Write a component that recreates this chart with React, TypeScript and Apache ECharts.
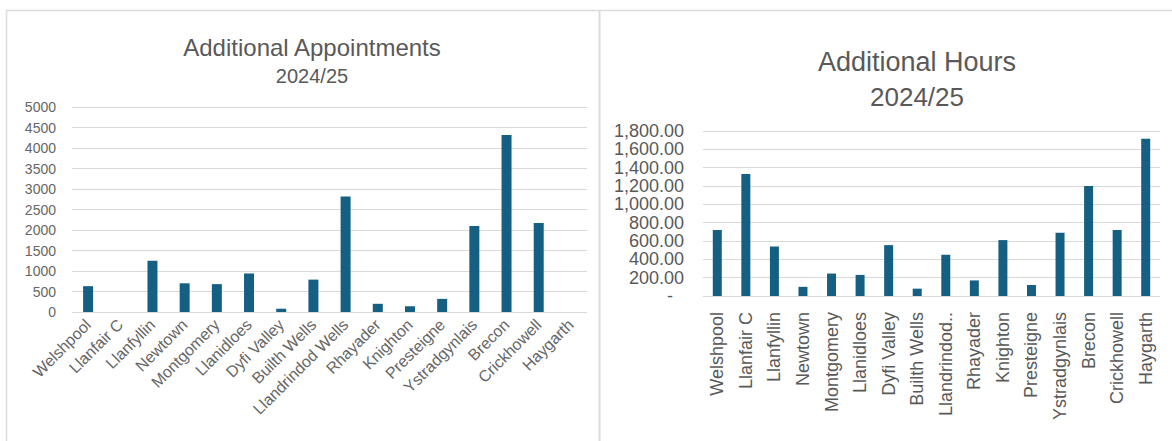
import React, { useEffect, useRef } from "react";
import * as echarts from "echarts";

const categories = [
  "Welshpool", "Llanfair C", "Llanfyllin", "Newtown", "Montgomery", "Llanidloes",
  "Dyfi Valley", "Builth Wells", "Llandrindod Wells", "Rhayader", "Knighton",
  "Presteigne", "Ystradgynlais", "Brecon", "Crickhowell", "Haygarth",
];

const appointments = [630, 0, 1250, 700, 680, 940, 80, 790, 2820, 200, 140, 320, 2100, 4320, 2170, 0];
const hours = [720, 1330, 540, 100, 245, 230, 555, 80, 450, 170, 610, 120, 690, 1200, 720, 1715];

const leftTitle = "Additional Appointments";
const rightTitle = "Additional Hours";
const period = "2024/25";

const BAR = "#156082";
const TXT = "#595959";
const GRID = "#d9d9d9";
const FONT = "'Liberation Sans', Arial, sans-serif";

export default function App() {
  const ref = useRef<HTMLDivElement>(null);
  useEffect(() => {
    if (!ref.current) return;
    const chart = echarts.init(ref.current, undefined, { renderer: "svg" });
    chart.setOption({
      animation: false,
      backgroundColor: "#ffffff",
      textStyle: { fontFamily: FONT },
      title: [
        { text: leftTitle, left: 307, top: 30, textAlign: "center", textStyle: { fontSize: 24, fontWeight: "normal", color: TXT, fontFamily: FONT } },
        { text: period, left: 307, top: 61, textAlign: "center", textStyle: { fontSize: 20, fontWeight: "normal", color: TXT, fontFamily: FONT } },
        { text: rightTitle, left: 912, top: 43, textAlign: "center", textStyle: { fontSize: 27, fontWeight: "normal", color: TXT, fontFamily: FONT } },
        { text: period, left: 912, top: 79, textAlign: "center", textStyle: { fontSize: 26, fontWeight: "normal", color: TXT, fontFamily: FONT } },
      ],
      graphic: [
        { type: "line", shape: { x1: 6, y1: 10.5, x2: 1172, y2: 10.5 }, style: { stroke: "#dcdcdc", lineWidth: 1.5 } },
        { type: "line", shape: { x1: 6.5, y1: 10, x2: 6.5, y2: 441 }, style: { stroke: "#dcdcdc", lineWidth: 1.5 } },
        { type: "line", shape: { x1: 599.5, y1: 10, x2: 599.5, y2: 441 }, style: { stroke: "#dcdcdc", lineWidth: 2 } },
      ],
      grid: [
        { left: 72, width: 515, top: 107, height: 205, containLabel: false },
        { left: 703, width: 457, top: 131, height: 165, containLabel: false },
      ],
      xAxis: [
        {
          type: "category", gridIndex: 0, data: categories,
          axisLine: { show: false }, axisTick: { show: false },
          axisLabel: { interval: 0, rotate: 45, fontSize: 16, color: "#666666", margin: 10, fontFamily: FONT },
        },
        {
          type: "category", gridIndex: 1, data: categories,
          axisLine: { show: false }, axisTick: { show: false },
          axisLabel: {
            interval: 0, rotate: 90, fontSize: 18, color: TXT, margin: 16, fontFamily: FONT,
            formatter: (v: string) => (v.length > 14 ? v.slice(0, 11) + ".." : v),
          },
        },
      ],
      yAxis: [
        {
          type: "value", gridIndex: 0, min: 0, max: 5000, interval: 500,
          axisLine: { show: false }, axisTick: { show: false },
          splitLine: { lineStyle: { color: GRID, width: 1 } },
          axisLabel: { fontSize: 14, color: "#666666", margin: 16, fontFamily: FONT, formatter: (v: number) => String(v) },
        },
        {
          type: "value", gridIndex: 1, min: 0, max: 1800, interval: 200,
          axisLine: { show: false }, axisTick: { show: false },
          splitLine: { lineStyle: { color: GRID, width: 1 } },
          axisLabel: {
            fontSize: 18, color: TXT, margin: 19, fontFamily: FONT,
            formatter: (v: number) =>
              v === 0 ? "{z|-}" : v.toLocaleString("en-US", { minimumFractionDigits: 2, maximumFractionDigits: 2 }),
            rich: { z: { fontSize: 18, color: TXT, padding: [0, 11, 0, 0], fontFamily: FONT } },
          },
        },
      ],
      series: [
        {
          type: "bar", xAxisIndex: 0, yAxisIndex: 0, data: appointments,
          barWidth: 10, itemStyle: { color: BAR },
        },
        {
          type: "bar", xAxisIndex: 1, yAxisIndex: 1, data: hours,
          barWidth: 9, itemStyle: { color: BAR },
        },
      ],
    });
    return () => chart.dispose();
  }, []);
  return (
    <div
      ref={ref}
      style={{ position: "fixed", left: 0, top: 0, width: 1172, height: 441, background: "#fff" }}
    />
  );
}
